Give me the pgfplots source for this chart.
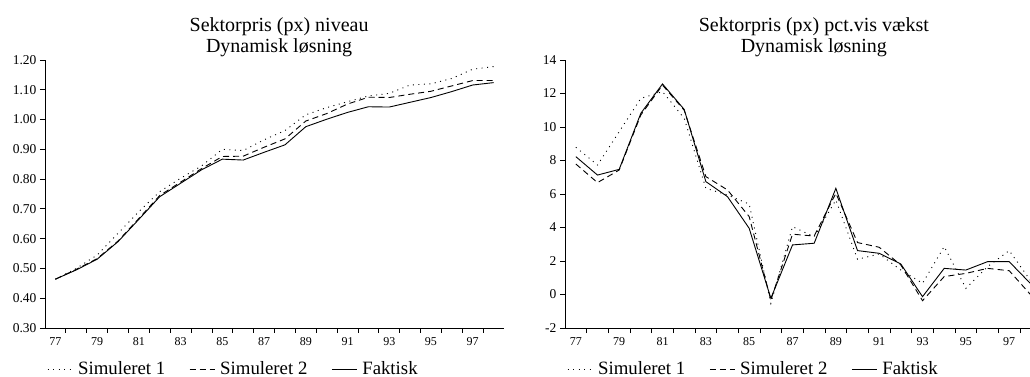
\documentclass[border=0pt]{standalone}
\usepackage{pgfplots}
\usepackage{pgfplotstable}
\pgfplotsset{compat=1.18}
\usepackage{fontspec}
\setmainfont{Liberation Serif}

\pgfplotstableread{
year s1 s2 fa
77 0.464 0.464 0.464
78 0.500 0.497 0.495
79 0.545 0.533 0.531
80 0.618 0.592 0.590
81 0.691 0.668 0.665
82 0.758 0.745 0.741
83 0.803 0.790 0.786
84 0.844 0.835 0.831
85 0.900 0.876 0.867
86 0.896 0.877 0.864
87 0.932 0.907 0.890
88 0.963 0.935 0.915
89 1.016 0.995 0.976
90 1.040 1.020 1.001
91 1.060 1.052 1.024
92 1.079 1.075 1.043
93 1.088 1.074 1.042
94 1.116 1.085 1.058
95 1.120 1.095 1.074
96 1.138 1.113 1.094
97 1.169 1.131 1.116
98 1.178 1.131 1.124
}\levtab

\pgfplotstableread{
year s1 s2 fa
77 8.79 7.79 8.23
78 7.73 6.68 7.13
79 9.72 7.43 7.47
80 11.71 10.72 10.82
81 12.11 12.50 12.57
82 10.52 11.00 11.05
83 6.34 7.04 6.74
84 5.94 6.24 5.84
85 5.40 4.65 3.95
86 -0.53 -0.33 -0.23
87 4.05 3.60 2.96
88 3.45 3.49 3.06
89 5.64 6.04 6.34
90 2.10 3.10 2.62
91 2.42 2.82 2.46
92 1.46 1.76 1.82
93 0.67 -0.37 -0.13
94 2.86 1.07 1.56
95 0.37 1.26 1.46
96 1.66 1.56 1.96
97 2.62 1.42 1.96
98 0.80 -0.03 0.63
}\growtab

\newcommand{\titlefont}{\fontsize{20}{21}\selectfont}

\pgfplotsset{
  mybase/.style={
    scale only axis, height=268pt,
    axis x line*=bottom, axis y line*=left,
    tick align=outside, major tick length=5pt,
    xmin=76.5, xmax=98.5,
    xtick={77.5,78.5,...,97.5}, xticklabels={},
    extra x ticks={77,79,...,97},
    extra x tick labels={77,79,81,83,85,87,89,91,93,95,97},
    extra x tick style={major tick length=0pt},
    x tick label style={font=\fontsize{12}{14}\selectfont, yshift=-6pt},
    y tick label style={font=\fontsize{13.5}{15}\selectfont},
    /pgf/number format/assume math mode=true,
    axis line style={line width=0.8pt, black},
    tick style={line width=0.8pt, black},
    legend columns=3,
    legend cell align=left,
    legend style={draw=none, fill=none, inner sep=0pt, at={(0,-0.153)}, anchor=west, xshift=2pt,
      font=\fontsize{18.8}{20}\selectfont,
      /tikz/every odd column/.append style={column sep=3pt},
      /tikz/every even column/.append style={column sep=22pt}},
    legend image code/.code={\draw[##1] (0pt,0pt) -- (25pt,0pt);},
    every axis title/.style={anchor=south, inner sep=0pt, yshift=2.5pt, align=center,
      font=\titlefont},
  },
  sA/.style={black, line width=0.9pt, dash pattern=on 1pt off 4.5pt},
  sB/.style={black, line width=0.9pt, dash pattern=on 6pt off 4pt},
  sC/.style={black, line width=0.9pt, solid},
}

\begin{document}
\begin{tikzpicture}[x=1pt,y=1pt]
\useasboundingbox (0,0) rectangle (1030,377);
\clip (0,0) rectangle (1030,377);
\begin{axis}[mybase, at={(45pt,49pt)}, anchor=south west, width=459pt,
  ymin=0.3, ymax=1.2, ytick={0.3,0.4,...,1.21},
  yticklabel style={/pgf/number format/.cd, fixed, fixed zerofill, precision=2},
  title={\titlefont Sektorpris (px) niveau\\\titlefont Dynamisk løsning},
  title style={at={(0.51,1)}, font=\titlefont}]
\addplot[sA] table[x=year,y=s1] {\levtab};
\addlegendentry{Simuleret 1}
\addplot[sB] table[x=year,y=s2] {\levtab};
\addlegendentry{Simuleret 2}
\addplot[sC] table[x=year,y=fa] {\levtab};
\addlegendentry{Faktisk}
\end{axis}
\begin{axis}[mybase, at={(565pt,49pt)}, anchor=south west, width=476.7pt,
  ymin=-2, ymax=14, ytick={-2,0,...,14},
  title={\titlefont Sektorpris (px) pct.vis vækst\\\titlefont Dynamisk løsning},
  title style={at={(0.522,1)}, font=\titlefont}]
\addplot[sA] table[x=year,y=s1] {\growtab};
\addlegendentry{Simuleret 1}
\addplot[sB] table[x=year,y=s2] {\growtab};
\addlegendentry{Simuleret 2}
\addplot[sC] table[x=year,y=fa] {\growtab};
\addlegendentry{Faktisk}
\end{axis}
\end{tikzpicture}
\end{document}
